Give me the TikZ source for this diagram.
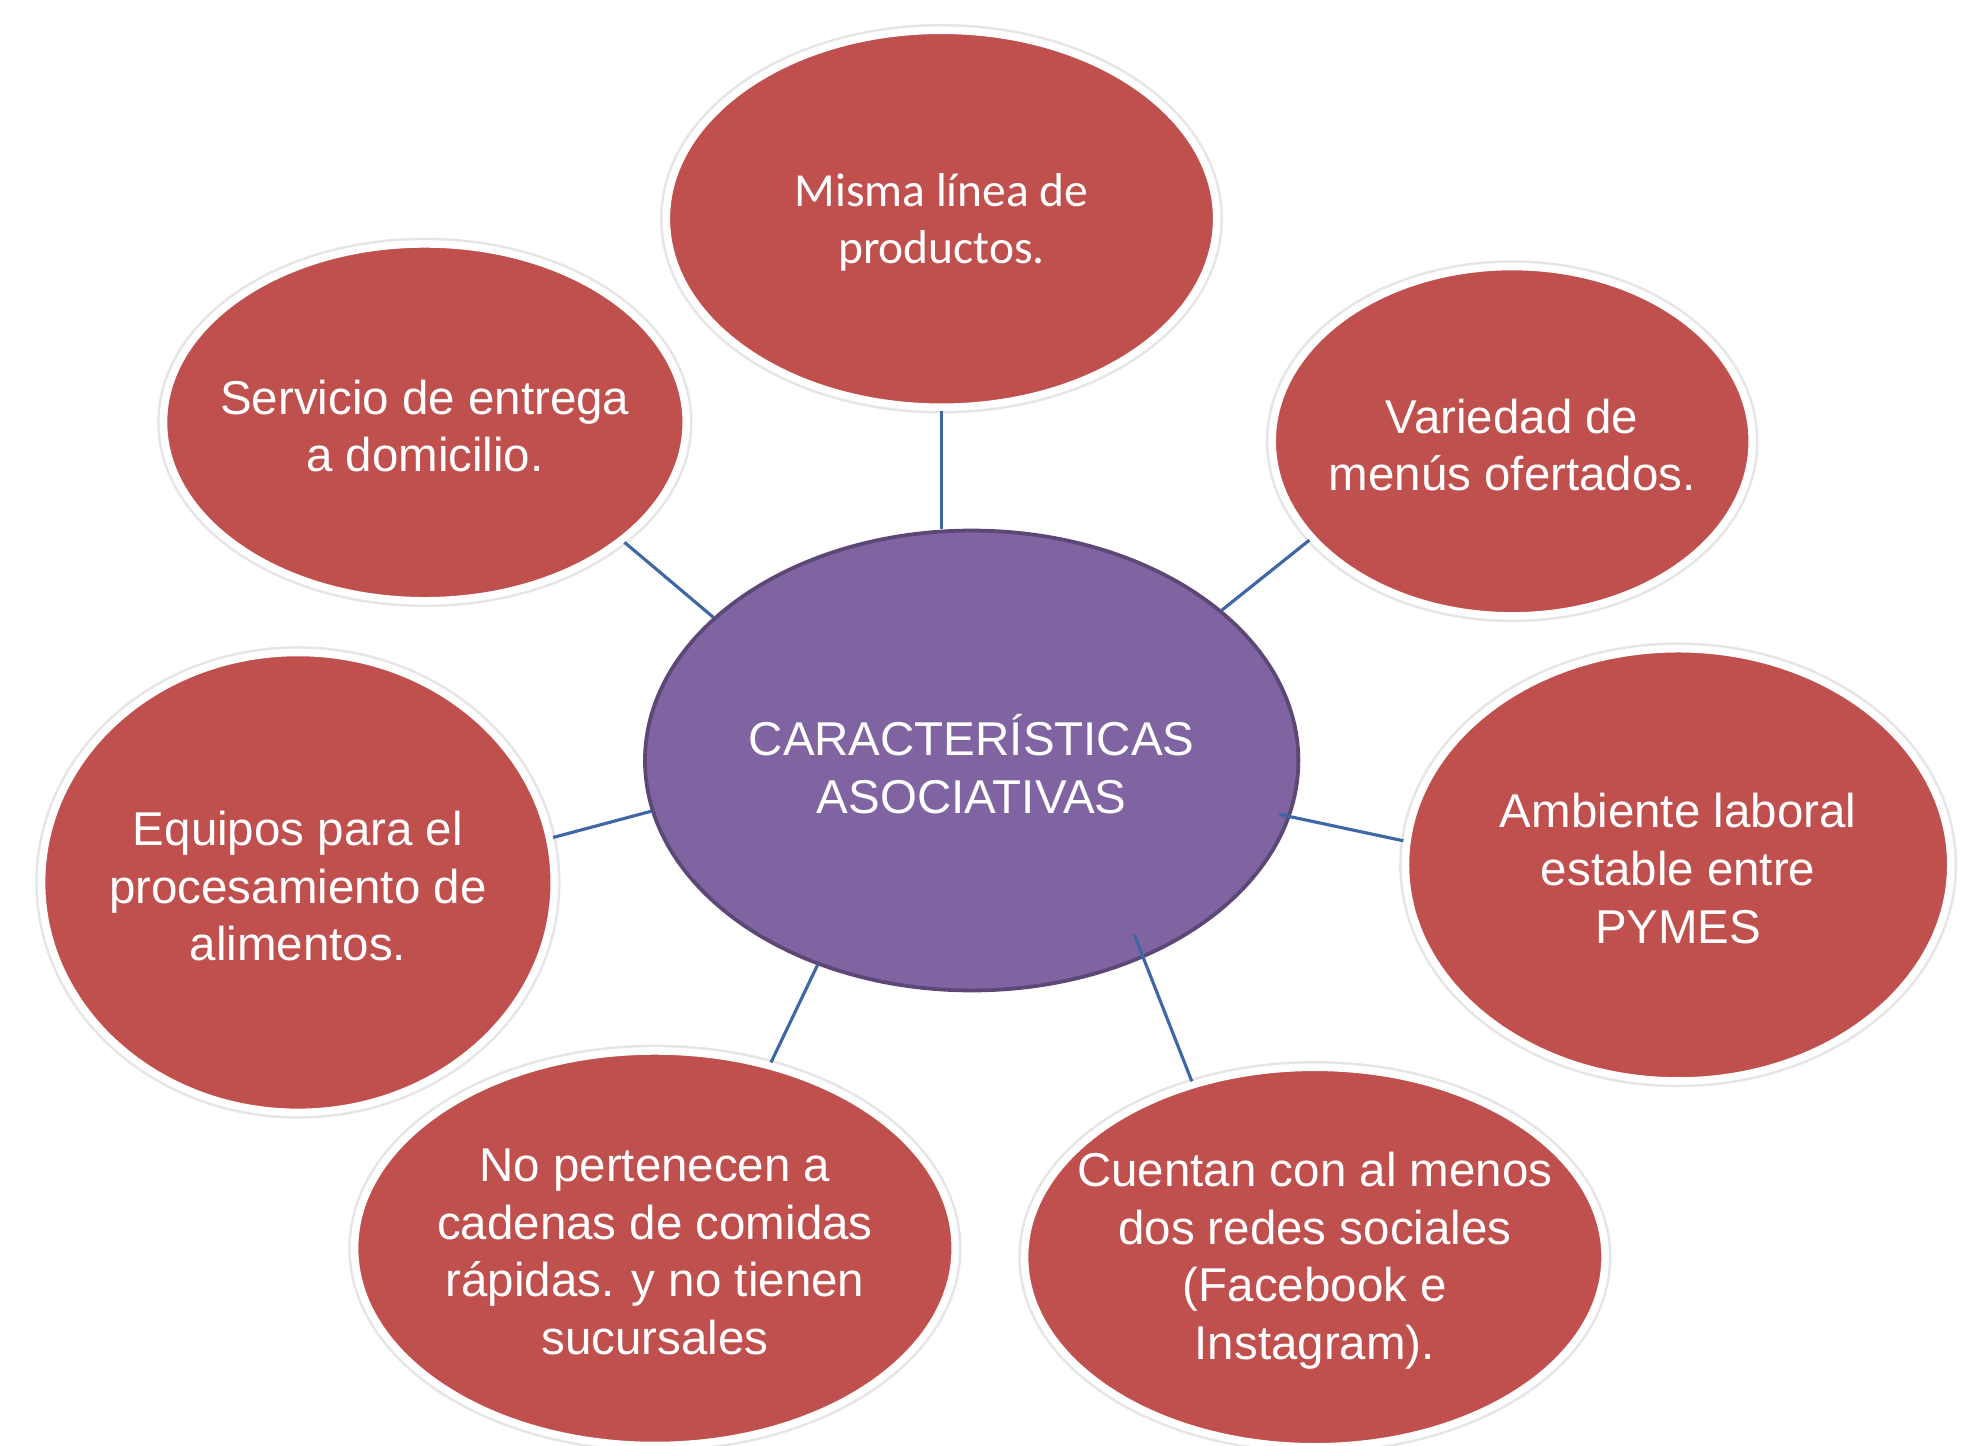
\documentclass[tikz,border=0pt]{standalone}
\usepackage{fontspec}
\setmainfont{Liberation Sans}
\newfontfamily\calib{Carlito}
\usetikzlibrary{shapes.geometric}
\definecolor{redfill}{HTML}{C0504D}
\definecolor{purplefill}{HTML}{8064A2}
\definecolor{purpleline}{HTML}{5C4776}
\definecolor{connblue}{HTML}{3F67A6}
\begin{document}
\begin{tikzpicture}[x=0.02cm,y=-0.02cm,
  bubble/.style 2 args={ellipse, fill=redfill, draw=white, line width=0.12cm,
    preaction={draw=black!10, line width=0.2cm},
    minimum width=#1*0.04cm, minimum height=#2*0.04cm, inner sep=0pt},
  hub/.style 2 args={ellipse, fill=purplefill, draw=purpleline, line width=0.06cm,
    minimum width=#1*0.04cm, minimum height=#2*0.04cm, inner sep=0pt},
  txt/.style={inner sep=0pt, align=center, text=white, yshift=-0.06cm,
    font=\fontsize{21.5}{26.1}\selectfont},
  conn/.style={draw=connblue, line width=0.05cm}]
\useasboundingbox (0,0) rectangle (1568,1150);
\node[hub={260}{183}] (ctr) at (773,605) {};
\node[txt] (ctrt) at (ctr.center) {CARACTERÍSTICAS\\ASOCIATIVAS};
\node[bubble={219}{150}] (top) at (749,174) {};
\node[txt] (topt) at (top.center) {\calib Misma línea de\\\calib productos.};
\node[bubble={208}{142}] (serv) at (338,336) {};
\node[txt] (servt) at (serv.center) {Servicio de entrega\\a domicilio.};
\node[bubble={191}{139}] (var) at (1203,351) {};
\node[txt] (vart) at (var.center) {Variedad de\\menús ofertados.};
\node[bubble={204}{183}] (equip) at (237,702) {};
\node[txt] (equipt) at (equip.center) {Equipos para el\\procesamiento de\\alimentos.};
\node[bubble={217}{172}] (amb) at (1335,688) {};
\node[txt] (ambt) at (amb.center) {Ambiente laboral\\estable entre\\PYMES};
\node[bubble={239}{157}] (nop) at (521,993) {};
\node[txt] (nopt) at (nop.center) {No pertenecen a\\cadenas de comidas\\rápidas. y no tienen\\sucursales};
\node[bubble={231}{151}] (cuen) at (1046,1000) {};
\node[txt] (cuent) at (cuen.center) {Cuentan con al menos\\dos redes sociales\\(Facebook e\\Instagram).};
\draw[conn] (top.south) -- (top.south |- ctr.north);
\draw[conn] (serv.-31.5) -- (ctr.151.1);
\draw[conn] (var.-154.2) -- (ctr.31);
\draw[conn] (equip.10.9) -- (ctr.189.1);
\draw[conn, shorten >=-0.18cm] (amb.175.3) -- (ctr.-10.6);
\draw[conn] (nop.58.8) -- (ctr.-127.3);
\draw[conn, shorten >=-0.4cm] (cuen.125.2) -- (ctr.-49.4);
\end{tikzpicture}
\end{document}
